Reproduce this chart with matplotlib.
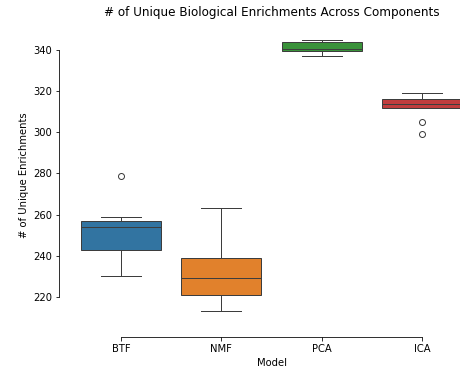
import numpy as np
import pandas as pd
import matplotlib
matplotlib.use("Agg")
import matplotlib.pyplot as plt
import seaborn as sns

# ---------- Data -------------------------------------------------------------

models = ["BTF", "NMF", "PCA", "ICA"]

btf_counts = [230, 238, 243, 250, 254, 256, 257, 259, 279]
nmf_counts = [213, 218, 221, 226, 229, 233, 239, 250, 263]
pca_counts = [337, 338, 339.7, 340, 340.5, 342, 344, 344.5, 345]
ica_counts = [299, 305, 311.7, 312, 313.8, 315, 316, 317, 319]

df = pd.DataFrame({
    "Model": np.repeat(models, [len(btf_counts), len(nmf_counts),
                                len(pca_counts), len(ica_counts)]),
    "Count": btf_counts + nmf_counts + pca_counts + ica_counts,
})

# ---------- Plot -------------------------------------------------------------

fig = plt.figure(figsize=(460 / 72, 375 / 72), dpi=72)
ax = fig.add_axes([71 / 460, 50 / 375, 401 / 460, 299 / 375])

sns.boxplot(data=df, x="Model", y="Count", hue="Model",
            palette="tab10", order=models, legend=False, ax=ax)

ax.set_ylabel("# of Unique Enrichments")
ax.set_xlabel("Model")
ax.set_title("# of Unique Biological Enrichments Across Components", pad=10)

sns.despine(ax=ax, offset=12, trim=True)

fig.savefig("out.png", dpi=72)
